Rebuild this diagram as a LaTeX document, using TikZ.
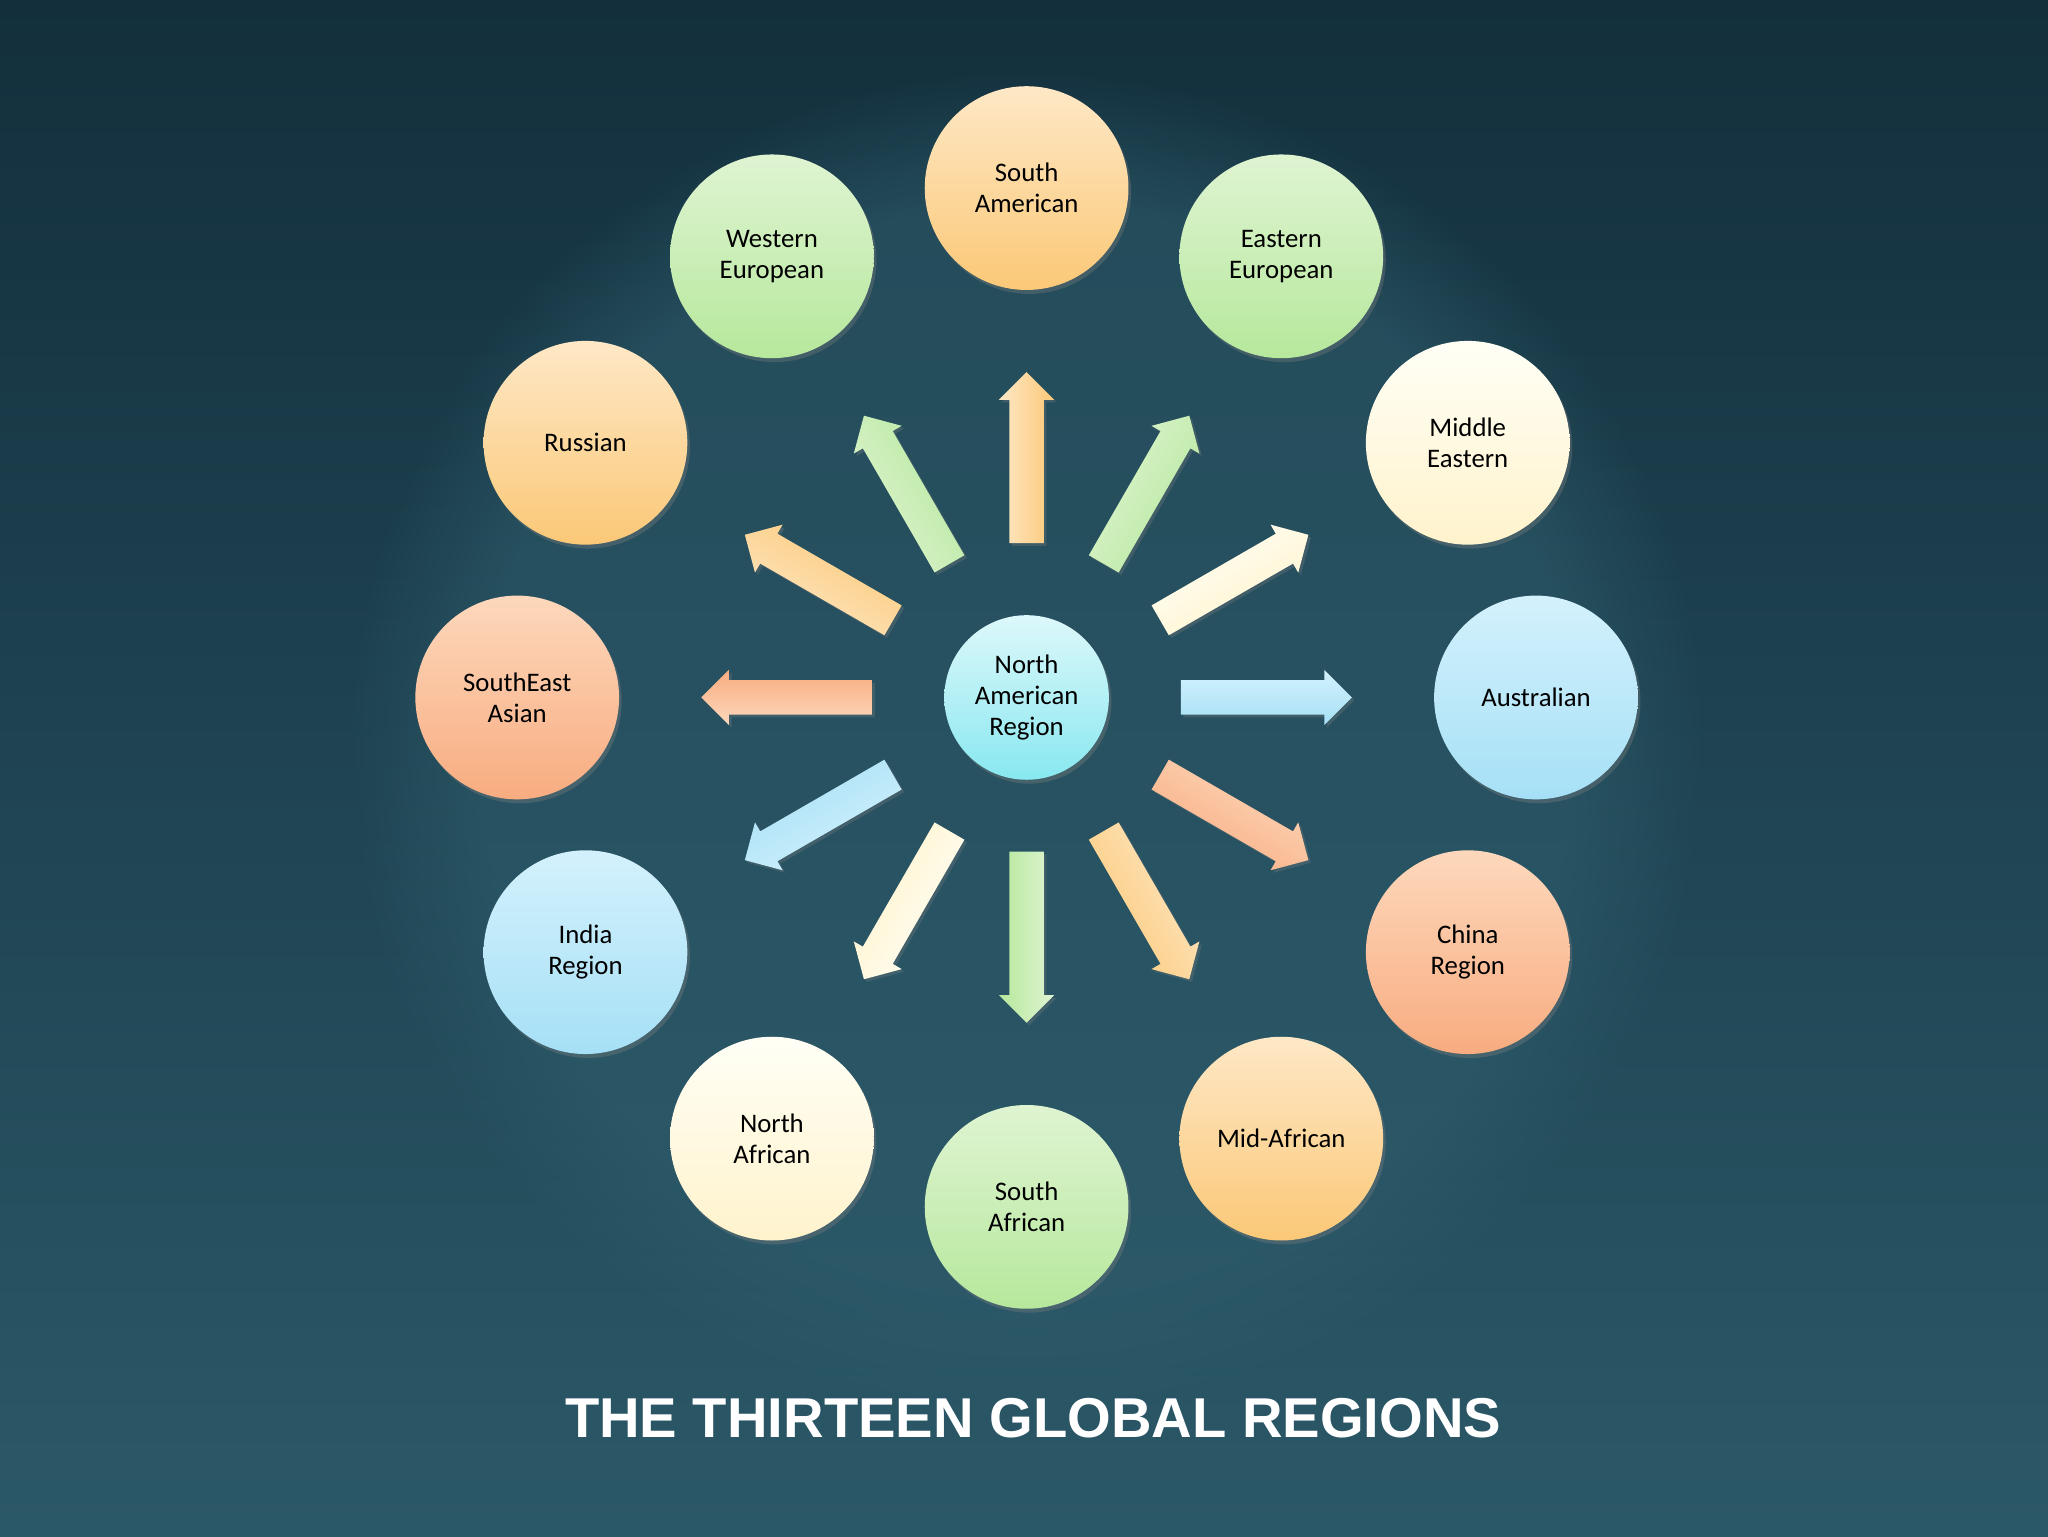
\documentclass[tikz,border=0pt]{standalone}
\usepackage{fontspec}
\setmainfont{Carlito}
\newfontfamily\titlefont{Liberation Sans}
\usetikzlibrary{shapes.arrows,shadows,fadings}
\definecolor{orT}{HTML}{FEE8C6}\definecolor{orB}{HTML}{FBC877}
\definecolor{grT}{HTML}{DFF4D2}\definecolor{grB}{HTML}{B6E89C}
\definecolor{crT}{HTML}{FFFFF6}\definecolor{crB}{HTML}{FFF3CC}
\definecolor{blT}{HTML}{D3F1FC}\definecolor{blB}{HTML}{A6E0F6}
\definecolor{saT}{HTML}{FDD8BC}\definecolor{saB}{HTML}{F8AC80}
\definecolor{cyT}{HTML}{DDF8FA}\definecolor{cyB}{HTML}{88E8F0}
\definecolor{bgTop}{HTML}{132F3C}\definecolor{bgMid}{HTML}{214A5A}\definecolor{bgBot}{HTML}{2B5868}
\definecolor{bgGlow}{HTML}{2E5C6C}
\tikzset{
  region/.style={circle, minimum size=156pt, inner sep=0pt, align=center,
    font=\fontsize{20.5}{24}\selectfont, text=black,
    drop shadow={shadow xshift=2pt, shadow yshift=-3pt, opacity=0.35}},
  hub/.style={region, minimum size=126pt},
  spoke/.style={single arrow, single arrow head extend=8pt, single arrow tip angle=90,
    single arrow head indent=0pt, minimum height=131pt, inner xsep=0pt, inner ysep=13pt,
    draw=none, drop shadow={shadow xshift=2pt, shadow yshift=-2pt, opacity=0.3}},
  cOr/.style={top color=orT, bottom color=orB},
  cGr/.style={top color=grT, bottom color=grB},
  cCr/.style={top color=crT, bottom color=crB},
  cBl/.style={top color=blT, bottom color=blB},
  cSa/.style={top color=saT, bottom color=saB},
  cCy/.style={top color=cyT, bottom color=cyB},
}
\begin{document}
\begin{tikzpicture}[x=1pt,y=1pt]
\useasboundingbox (-786,-642) rectangle (782,534);
\fill[top color=bgTop, middle color=bgMid, bottom color=bgBot] (-786,-642) rectangle (782,534);
\fill[bgGlow, path fading=circle with fuzzy edge 20 percent, opacity=0.6] (0,-40) circle (520);
% spokes
\foreach \ang/\col [count=\i] in {90/cOr,60/cGr,30/cCr,0/cBl,-30/cSa,-60/cOr,-90/cGr,-120/cCr,-150/cBl,180/cSa,150/cOr,120/cGr}{
  \node[spoke, \col, shading angle=\ang, rotate=\ang] (a\i) at (\ang:177) {};
}
% hub
\node[hub, cCy] (hub) at (0,0) {North\\American\\Region};
% regions
\node[region, cOr] (r1) at (90:390) {South\\American};
\node[region, cGr] (r2) at (60:390) {Eastern\\European};
\node[region, cCr] (r3) at (30:390) {Middle\\Eastern};
\node[region, cBl] (r4) at (0:390) {Australian};
\node[region, cSa] (r5) at (-30:390) {China\\Region};
\node[region, cOr] (r6) at (-60:390) {Mid-African};
\node[region, cGr] (r7) at (-90:390) {South\\African};
\node[region, cCr] (r8) at (-120:390) {North\\African};
\node[region, cBl] (r9) at (-150:390) {India\\Region};
\node[region, cSa] (r10) at (180:390) {SouthEast\\Asian};
\node[region, cOr] (r11) at (150:390) {Russian};
\node[region, cGr] (r12) at (120:390) {Western\\European};
% title
\node[text=white, font=\titlefont\bfseries\fontsize{43}{50}\selectfont] (title) at (5,-552) {THE THIRTEEN GLOBAL REGIONS};
\end{tikzpicture}
\end{document}
